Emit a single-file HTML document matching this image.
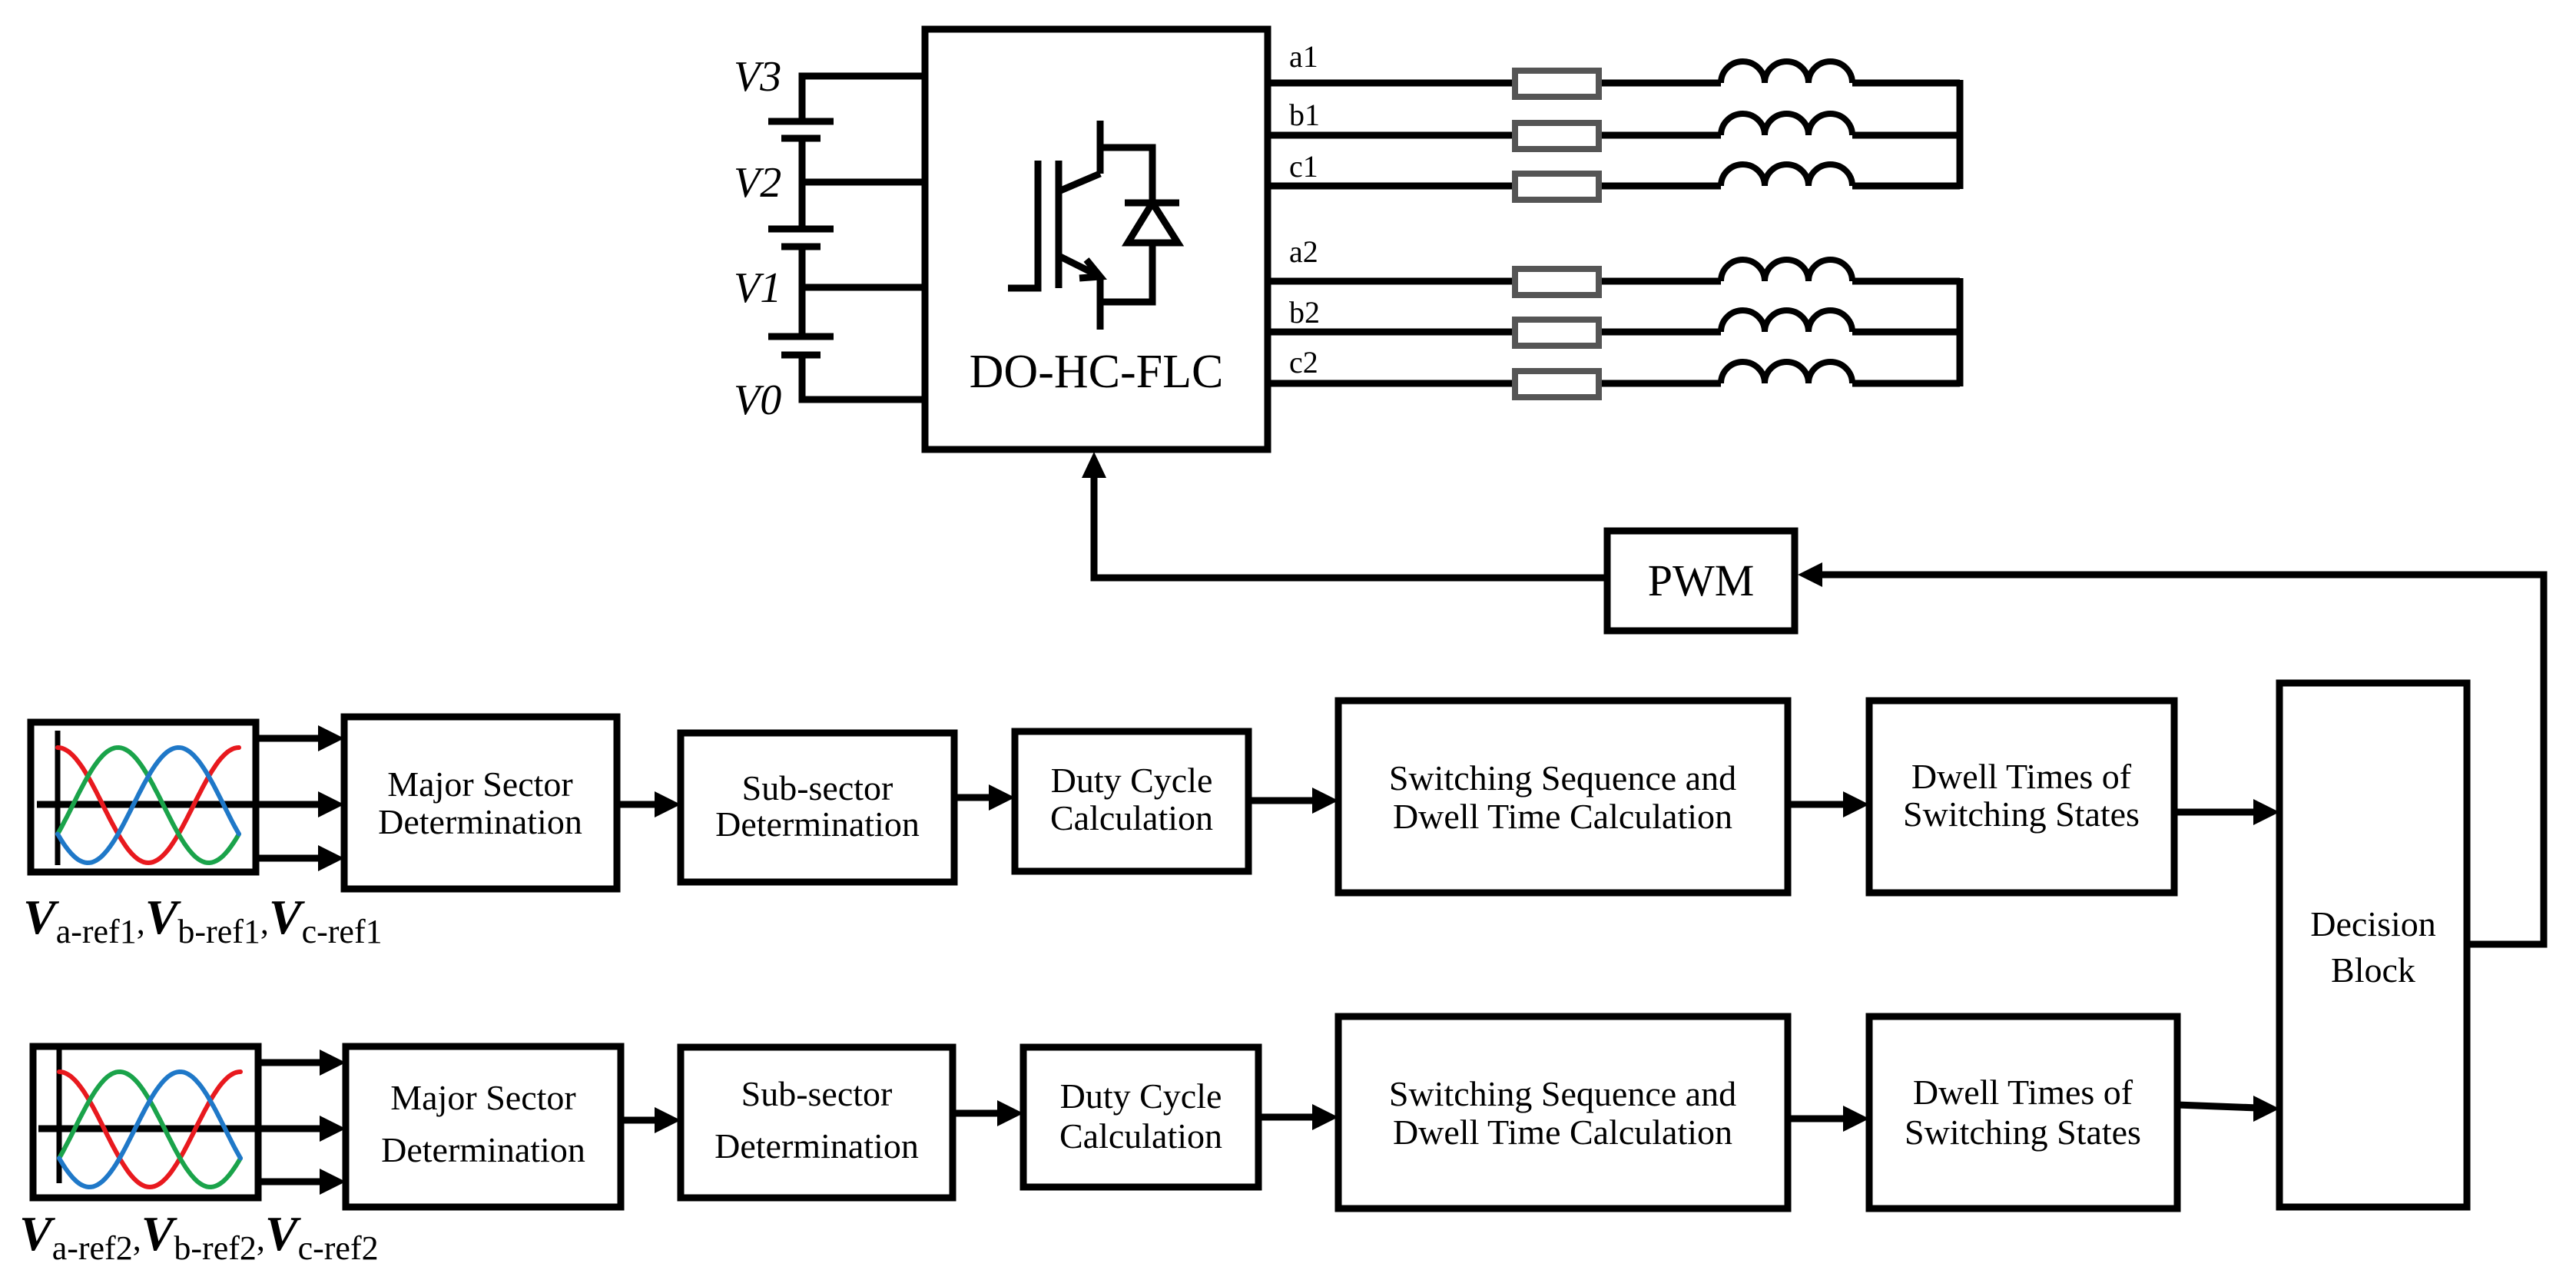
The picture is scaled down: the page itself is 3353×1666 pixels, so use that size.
<!DOCTYPE html>
<html><head><meta charset="utf-8"><style>
html,body{margin:0;padding:0;background:#fff}
svg{display:block}
text{font-family:"Liberation Serif",serif;fill:#000}
</style></head><body>
<svg width="3353" height="1666" viewBox="0 0 3353 1666" xmlns="http://www.w3.org/2000/svg">
<defs>
<marker id="ah" markerWidth="10" markerHeight="10" refX="9" refY="5" orient="auto" markerUnits="userSpaceOnUse" viewBox="0 0 10 10"></marker>
</defs>
<g fill="none" stroke="#000" stroke-width="9">
<!-- main box -->
<rect x="1204" y="38" width="446" height="547"/>
<!-- battery -->
<polyline points="1204,99 1044,99 1044,158"/>
<line x1="1044" y1="180" x2="1044" y2="298"/>
<line x1="1044" y1="321" x2="1044" y2="438"/>
<polyline points="1044,462 1044,520 1204,520"/>
<line x1="1044" y1="237" x2="1204" y2="237"/>
<line x1="1044" y1="374" x2="1204" y2="374"/>
<line x1="1000" y1="158" x2="1085" y2="158"/><line x1="1017" y1="180" x2="1068" y2="180"/>
<line x1="1000" y1="298" x2="1085" y2="298"/><line x1="1017" y1="321" x2="1068" y2="321"/>
<line x1="1000" y1="438" x2="1085" y2="438"/><line x1="1017" y1="462" x2="1068" y2="462"/>
<!-- IGBT -->
<polyline points="1312,375 1351,375 1351,209"/>
<line x1="1378" y1="209" x2="1378" y2="375"/>
<line x1="1432" y1="157" x2="1432" y2="226"/>
<line x1="1378" y1="249" x2="1432" y2="226"/>
<line x1="1378" y1="333" x2="1432" y2="360"/>
<polyline points="1414,338 1432,360 1405,362"/>
<line x1="1432" y1="360" x2="1432" y2="429"/>
<polyline points="1432,192 1500,192 1500,393 1432,393"/>
<line x1="1464" y1="264" x2="1535" y2="264"/>
<polygon points="1500,264 1468,316 1533,316" fill="#fff"/>
<!-- output wires -->
<g>
<line x1="1650" y1="108" x2="1972" y2="108"/><line x1="2081" y1="108" x2="2240" y2="108"/><line x1="2411" y1="108" x2="2551" y2="108"/>
<line x1="1650" y1="176" x2="1972" y2="176"/><line x1="2081" y1="176" x2="2240" y2="176"/><line x1="2411" y1="176" x2="2551" y2="176"/>
<line x1="1650" y1="242" x2="1972" y2="242"/><line x1="2081" y1="242" x2="2240" y2="242"/><line x1="2411" y1="242" x2="2551" y2="242"/>
<line x1="2551" y1="104" x2="2551" y2="246"/>
<line x1="1650" y1="366" x2="1972" y2="366"/><line x1="2081" y1="366" x2="2240" y2="366"/><line x1="2411" y1="366" x2="2551" y2="366"/>
<line x1="1650" y1="432" x2="1972" y2="432"/><line x1="2081" y1="432" x2="2240" y2="432"/><line x1="2411" y1="432" x2="2551" y2="432"/>
<line x1="1650" y1="499" x2="1972" y2="499"/><line x1="2081" y1="499" x2="2240" y2="499"/><line x1="2411" y1="499" x2="2551" y2="499"/>
<line x1="2551" y1="362" x2="2551" y2="503"/>
</g>
<g stroke="#555" stroke-width="8">
<rect x="1972" y="92" width="109" height="34"/><rect x="1972" y="160" width="109" height="34"/><rect x="1972" y="226" width="109" height="34"/>
<rect x="1972" y="350" width="109" height="34"/><rect x="1972" y="416" width="109" height="34"/><rect x="1972" y="483" width="109" height="34"/>
</g>
<g stroke-width="8">
<path d="M2240,108 a28.5,28 0 0 1 57,0 a28.5,28 0 0 1 57,0 a28.5,28 0 0 1 57,0"/>
<path d="M2240,176 a28.5,28 0 0 1 57,0 a28.5,28 0 0 1 57,0 a28.5,28 0 0 1 57,0"/>
<path d="M2240,242 a28.5,28 0 0 1 57,0 a28.5,28 0 0 1 57,0 a28.5,28 0 0 1 57,0"/>
<path d="M2240,366 a28.5,28 0 0 1 57,0 a28.5,28 0 0 1 57,0 a28.5,28 0 0 1 57,0"/>
<path d="M2240,432 a28.5,28 0 0 1 57,0 a28.5,28 0 0 1 57,0 a28.5,28 0 0 1 57,0"/>
<path d="M2240,499 a28.5,28 0 0 1 57,0 a28.5,28 0 0 1 57,0 a28.5,28 0 0 1 57,0"/>
</g>
<!-- feedback -->
<polyline points="1424,618 1424,752 2092,752"/>
<rect x="2092" y="691" width="244" height="130"/>
<polyline points="3211,1229 3311,1229 3311,748 2370,748"/>
<!-- row 1 boxes -->
<rect x="40" y="940" width="293" height="195"/>
<rect x="448" y="933" width="355" height="224"/>
<rect x="886" y="954" width="356" height="194"/>
<rect x="1321" y="952" width="304" height="182"/>
<rect x="1742" y="912" width="585" height="250"/>
<rect x="2433" y="912" width="397" height="250"/>
<rect x="2967" y="889" width="244" height="682"/>
<!-- row 2 boxes -->
<rect x="43" y="1362" width="293" height="197"/>
<rect x="450" y="1362" width="358" height="209"/>
<rect x="886" y="1363" width="354" height="196"/>
<rect x="1332" y="1363" width="306" height="182"/>
<rect x="1742" y="1323" width="585" height="250"/>
<rect x="2433" y="1323" width="401" height="250"/>
<!-- arrow lines row1 -->
<line x1="333" y1="961" x2="420" y2="961"/><line x1="333" y1="1117" x2="420" y2="1117"/>
<line x1="48" y1="1047" x2="420" y2="1047"/>
<line x1="803" y1="1047" x2="858" y2="1047"/>
<line x1="1242" y1="1038" x2="1293" y2="1038"/>
<line x1="1625" y1="1042" x2="1714" y2="1042"/>
<line x1="2327" y1="1047" x2="2405" y2="1047"/>
<line x1="2830" y1="1057" x2="2939" y2="1057"/>
<!-- row2 -->
<line x1="336" y1="1383" x2="422" y2="1383"/><line x1="336" y1="1538" x2="422" y2="1538"/>
<line x1="50" y1="1469" x2="422" y2="1469"/>
<line x1="808" y1="1458" x2="858" y2="1458"/>
<line x1="1240" y1="1449" x2="1304" y2="1449"/>
<line x1="1638" y1="1454" x2="1714" y2="1454"/>
<line x1="2327" y1="1456" x2="2405" y2="1456"/>
<line x1="2834" y1="1438" x2="2939" y2="1442"/>
<!-- axes of waveforms -->
<line x1="75" y1="951" x2="75" y2="1126" stroke-width="7"/>
<line x1="77" y1="1365" x2="77" y2="1540" stroke-width="7"/>
</g>
<!-- arrowheads -->
<g fill="#000">
<polygon points="1424,588 1408,622 1440,622"/>
<polygon points="2340,748 2372,732 2372,764"/>
<polygon points="448,961 414,944 414,978"/><polygon points="448,1047 414,1030 414,1064"/><polygon points="448,1117 414,1100 414,1134"/>
<polygon points="886,1047 852,1030 852,1064"/>
<polygon points="1321,1038 1287,1021 1287,1055"/>
<polygon points="1742,1042 1708,1025 1708,1059"/>
<polygon points="2433,1047 2399,1030 2399,1064"/>
<polygon points="2967,1057 2933,1040 2933,1074"/>
<polygon points="450,1383 416,1366 416,1400"/><polygon points="450,1469 416,1452 416,1486"/><polygon points="450,1538 416,1521 416,1555"/>
<polygon points="886,1458 852,1441 852,1475"/>
<polygon points="1332,1449 1298,1432 1298,1466"/>
<polygon points="1742,1454 1708,1437 1708,1471"/>
<polygon points="2433,1456 2399,1439 2399,1473"/>
<polygon points="2967,1443 2933,1426 2933,1460"/>
</g>
<!-- waveforms -->
<g fill="none" stroke-width="6" stroke-linecap="round">
<path id="r1" stroke="#e8191e" d=""/>
</g>
<script>
(function(){
var svg=document.querySelector('svg');
function wave(x0,x1,mid,amp,ph,col){
 var d='';for(var i=0;i<=80;i++){var x=x0+(x1-x0)*i/80;var th=2*Math.PI*i/80;var y=mid-amp*Math.cos(th-ph);d+=(i?'L':'M')+x.toFixed(1)+','+y.toFixed(1);}
 var p=document.createElementNS('http://www.w3.org/2000/svg','path');p.setAttribute('d',d);p.setAttribute('fill','none');p.setAttribute('stroke',col);p.setAttribute('stroke-width','6');p.setAttribute('stroke-linecap','round');svg.appendChild(p);}
[[1048,75,311],[1470,77,313]].forEach(function(r){
 wave(r[1],r[2],r[0],75,0,'#e8191e');
 wave(r[1],r[2],r[0],75,2*Math.PI/3,'#1aa34a');
 wave(r[1],r[2],r[0],75,4*Math.PI/3,'#1f78c8');
});
})();
</script>
<!-- labels -->
<g font-style="italic" font-size="56">
<text x="955" y="118">V3</text><text x="955" y="256">V2</text><text x="955" y="393">V1</text><text x="955" y="539">V0</text>
</g>
<text x="1427" y="504" font-size="62" text-anchor="middle">DO-HC-FLC</text>
<g font-size="40">
<text x="1678" y="87">a1</text><text x="1678" y="163">b1</text><text x="1678" y="230">c1</text>
<text x="1678" y="341">a2</text><text x="1678" y="420">b2</text><text x="1678" y="485">c2</text>
</g>
<text x="2214" y="775" font-size="58" text-anchor="middle">PWM</text>
<g font-size="46" text-anchor="middle">
<text x="625" y="1036">Major Sector</text><text x="625" y="1085">Determination</text>
<text x="1064" y="1041">Sub-sector</text><text x="1064" y="1088">Determination</text>
<text x="1473" y="1031">Duty Cycle</text><text x="1473" y="1080">Calculation</text>
<text x="2034" y="1028">Switching Sequence and</text><text x="2034" y="1078">Dwell Time Calculation</text>
<text x="2631" y="1026">Dwell Times of</text><text x="2631" y="1075">Switching States</text>
<text x="3089" y="1218">Decision</text><text x="3089" y="1278">Block</text>
<text x="629" y="1444">Major Sector</text><text x="629" y="1512">Determination</text>
<text x="1063" y="1439">Sub-sector</text><text x="1063" y="1507">Determination</text>
<text x="1485" y="1442">Duty Cycle</text><text x="1485" y="1494">Calculation</text>
<text x="2034" y="1439">Switching Sequence and</text><text x="2034" y="1489">Dwell Time Calculation</text>
<text x="2633" y="1437">Dwell Times of</text><text x="2633" y="1489">Switching States</text>
</g>
<text x="30" y="1215" font-size="44"><tspan font-size="64" font-style="italic" font-weight="bold">V</tspan><tspan dy="12">a-ref1</tspan><tspan dy="-12">,</tspan><tspan font-size="64" font-style="italic" font-weight="bold">V</tspan><tspan dy="12">b-ref1</tspan><tspan dy="-12">,</tspan><tspan font-size="64" font-style="italic" font-weight="bold">V</tspan><tspan dy="12">c-ref1</tspan></text>
<text x="25" y="1627" font-size="44"><tspan font-size="64" font-style="italic" font-weight="bold">V</tspan><tspan dy="12">a-ref2</tspan><tspan dy="-12">,</tspan><tspan font-size="64" font-style="italic" font-weight="bold">V</tspan><tspan dy="12">b-ref2</tspan><tspan dy="-12">,</tspan><tspan font-size="64" font-style="italic" font-weight="bold">V</tspan><tspan dy="12">c-ref2</tspan></text>
</svg>
</body></html>
